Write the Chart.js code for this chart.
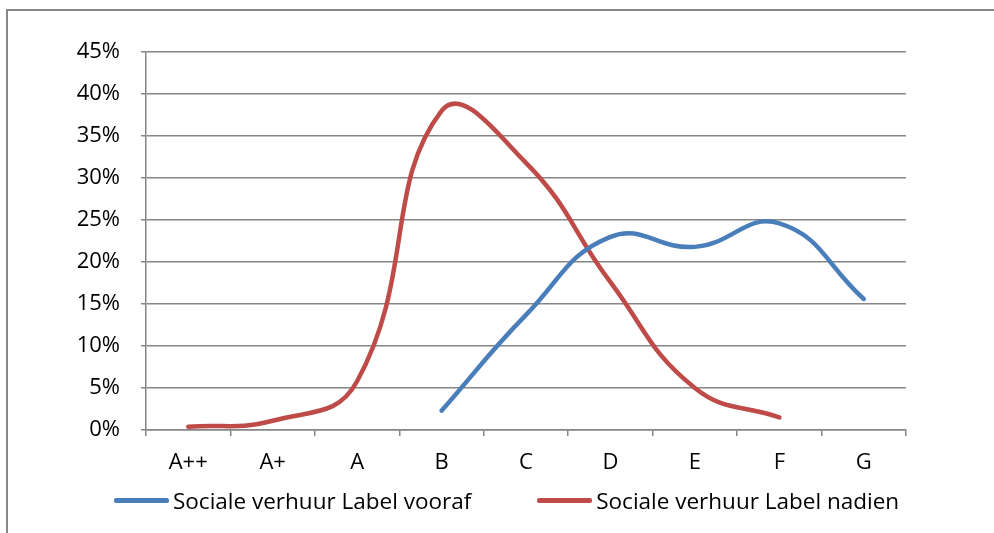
<!DOCTYPE html>
<html>
<head>
<meta charset="utf-8">
<script src="https://cdn.jsdelivr.net/npm/chart.js@4/dist/chart.umd.min.js"></script>
<style>
    html, body { margin: 0; padding: 0; background: #fff; }
    #wrap { position: relative; width: 994px; height: 533px; overflow: hidden; }
    #frame { position: absolute; left: 6px; top: 9px; width: 1100px; height: 600px;
             border-left: 2px solid #868686; border-top: 2px solid #868686; }
    #chart { position: absolute; left: 0; top: 0; }
    #legend { position: absolute; left: 114px; top: 485px; display: flex; align-items: center;
              font-family: "Open Sans", sans-serif; font-size: 22.5px; color: #000; white-space: nowrap; }
    #legend .item { display: flex; align-items: center; margin-right: 66px; }
    #legend .swatch { width: 55px; height: 5px; border-radius: 2px; margin-right: 4px; }
</style>
</head>
<body>
<div id="wrap">
    <div id="frame"></div>
    <canvas id="chart" width="994" height="533"></canvas>
    <div id="legend"></div>
</div>
<script>
// Energy labels and share of dwellings (%)
const labels = ['A++', 'A+', 'A', 'B', 'C', 'D', 'E', 'F', 'G'];
const vooraf = [null, null, null, 2.3, 13.7, 23.0, 21.8, 24.6, 15.6];
const nadien = [0.4, 1.1, 5.8, 38.0, 31.8, 17.6, 5.0, 1.5, null];
const yTicks = [0, 5, 10, 15, 20, 25, 30, 35, 40, 45];

const gridColor = '#868686';
const fontFamily = '"Open Sans", sans-serif';

const ctx = document.getElementById('chart');

const chart = new Chart(ctx, {
    type: 'line',
    data: {
        labels: labels,
        datasets: [
            {
                label: 'Sociale verhuur Label vooraf',
                data: vooraf,
                borderColor: '#4A7EBB',
                backgroundColor: '#4A7EBB',
                borderWidth: 4.5,
                tension: 0.45,
                pointRadius: 0,
                borderCapStyle: 'round'
            },
            {
                label: 'Sociale verhuur Label nadien',
                data: nadien,
                borderColor: '#BE4B48',
                backgroundColor: '#BE4B48',
                borderWidth: 4.5,
                tension: 0.45,
                pointRadius: 0,
                borderCapStyle: 'round'
            }
        ]
    },
    options: {
        responsive: false,
        animation: false,
        layout: {
            padding: { top: 52, right: 88, left: 0, bottom: 57 }
        },
        plugins: {
            tooltip: { enabled: false },
            legend: { display: false }
        },
        scales: {
            x: {
                offset: true,
                grid: {
                    offset: true,
                    drawOnChartArea: false,
                    drawTicks: true,
                    tickLength: 6,
                    color: gridColor,
                    lineWidth: 1.5
                },
                border: { color: gridColor, width: 1.5 },
                ticks: {
                    color: '#000',
                    font: { family: fontFamily, size: 22 },
                    padding: 14,
                    maxRotation: 0
                },
                afterFit: function (scale) { scale.height = 46; }
            },
            y: {
                min: 0,
                max: 45,
                afterBuildTicks: function (scale) {
                    scale.ticks = yTicks.map(v => ({ value: v }));
                },
                grid: {
                    color: gridColor,
                    lineWidth: 1.5,
                    tickLength: 5
                },
                border: { color: gridColor, width: 1.5 },
                ticks: {
                    color: '#000',
                    font: { family: fontFamily, size: 22 },
                    padding: 21,
                    callback: v => v + '%'
                },
                afterFit: function (scale) { scale.width = 146; }
            }
        }
    }
});

// legend built from the chart's datasets
const legendEl = document.getElementById('legend');
chart.data.datasets.forEach(ds => {
    const item = document.createElement('div');
    item.className = 'item';
    const sw = document.createElement('span');
    sw.className = 'swatch';
    sw.style.background = ds.borderColor;
    const txt = document.createElement('span');
    txt.textContent = ds.label;
    item.appendChild(sw);
    item.appendChild(txt);
    legendEl.appendChild(item);
});
</script>
</body>
</html>
